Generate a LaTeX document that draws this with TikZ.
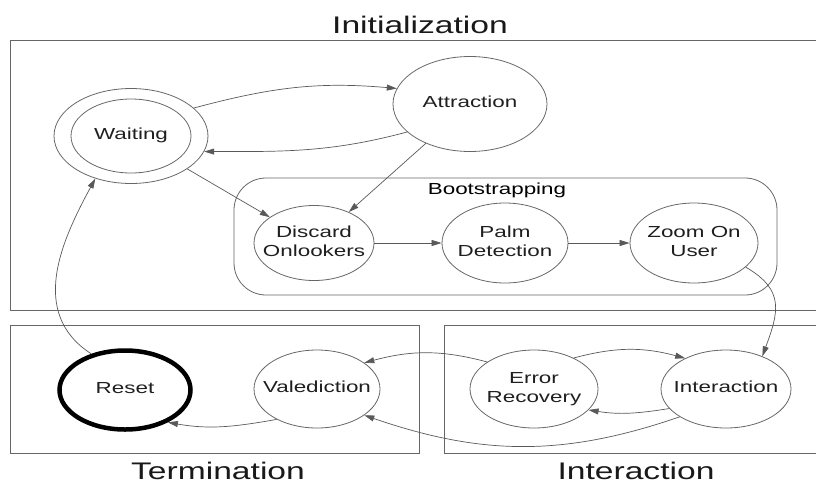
\documentclass[tikz,border=0pt]{standalone}
\usepackage{fontspec}
\setmainfont{Liberation Sans}[FakeStretch=1.4]
\usepackage{tikz}
\usetikzlibrary{shapes.geometric,arrows.meta}

% keeps the ellipse at its given size
\newcommand{\statetext}[1]{\makebox[0pt]{\begin{tabular}{@{}c@{}}#1\end{tabular}}}

\begin{document}
\begin{tikzpicture}[
    x=1pt, y=1pt,
    font=\fontsize{16}{19}\selectfont,
    state/.style={ellipse, draw=black!60, line width=0.8pt, inner sep=0pt, text=black!88},
    frame/.style={draw=black!60, line width=0.9pt},
    title/.style={font=\fontsize{24}{28}\selectfont, text=black!90, anchor=base},
    arrow/.style={-{Triangle[length=10pt,width=6pt]}, draw=black!65, line width=0.7pt},
]
\useasboundingbox (0,0) rectangle (816,-483);

% Frames
\draw[frame] (816,-40.5) -- (10,-40.5) -- (10,-310) -- (816,-310);
\draw[frame] (10,-325) rectangle (419,-453);
\draw[frame] (816,-325) -- (444,-325) -- (444,-453) -- (816,-453);
\node[title] (inittitle) at (420,-33) {Initialization};
\node[title] (termtitle) at (218,-479.5) {Termination};
\node[title] (intertitle) at (636,-479.5) {Interaction};

% Bootstrapping
\node[draw=black!60, line width=0.8pt, rounded corners=32pt, minimum width=543pt, minimum height=117pt] (boot) at (505.5,-236.5) {};
\node (boottitle) at (497,-190) {Bootstrapping};

% Initialization states
\node[state, minimum width=154pt, minimum height=95pt] (waiting) at (131,-136) {\statetext{Waiting}};
\draw[draw=black!60, line width=0.8pt] (waiting.center) ellipse [x radius=60, y radius=37];
\node[state, minimum width=154pt, minimum height=95pt] (attraction) at (470,-104) {\statetext{Attraction}};
\node[state, minimum width=120pt, minimum height=75pt] (discard) at (314,-243) {\statetext{Discard\\Onlookers}};
\node[state, minimum width=126pt, minimum height=80pt] (palm) at (505,-243) {\statetext{Palm\\Detection}};
\node[state, minimum width=128pt, minimum height=80pt] (zoom) at (694,-243) {\statetext{Zoom On\\User}};

% Termination states
\node[state, draw=black, line width=4.5pt, minimum width=131pt, minimum height=79pt] (reset) at (125,-390) {\statetext{Reset}};
\node[state, minimum width=126pt, minimum height=78pt] (valediction) at (317,-389) {\statetext{Valediction}};

% Interaction states
\node[state, minimum width=128pt, minimum height=78pt] (errorrec) at (534,-389) {\statetext{Error\\Recovery}};
\node[state, minimum width=130pt, minimum height=78pt] (interaction) at (726,-389) {\statetext{Interaction}};

% Transitions
\draw[arrow] (waiting.24) to[out=15,in=175] (attraction.168);
\draw[arrow] (attraction.204) to[out=195,in=0] (waiting.-12);
\draw[arrow] (waiting) -- (discard);
\draw[arrow] (attraction) -- (discard);
\draw[arrow] (discard) -- (palm);
\draw[arrow] (palm) -- (zoom);
\draw[arrow] (zoom.-25) to[out=-30,in=70,looseness=1.3] (interaction.42);
\draw[arrow] (errorrec.38) to[out=15,in=165] (interaction.143);
\draw[arrow] (interaction.199) to[out=189,in=-9] (errorrec.-21);
\draw[arrow] (errorrec.150) to[out=165,in=15] (valediction.29);
\draw[arrow] (interaction.211) to[out=199,in=-19] (valediction.-29);
\draw[arrow] (valediction.217) to[out=190,in=-10] (reset.-37);
\draw[arrow] (reset.133) .. controls (28,-313) and (62,-240) .. (waiting.230);

\end{tikzpicture}
\end{document}
